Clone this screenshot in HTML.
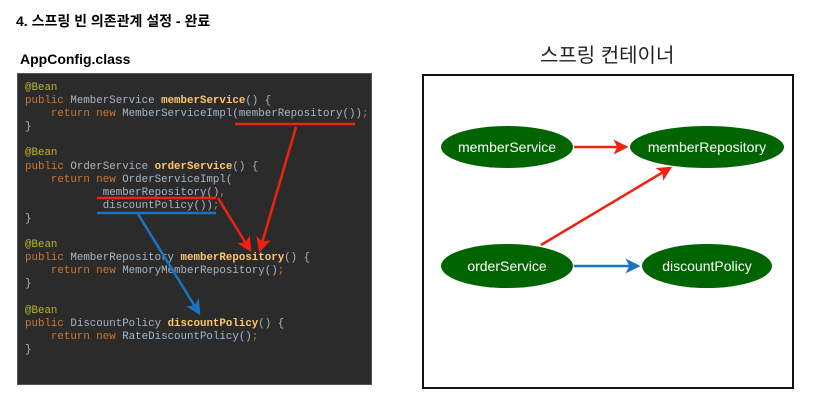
<!DOCTYPE html>
<html><head><meta charset="utf-8"><style>
body{margin:0;width:820px;height:404px;background:#fff;position:relative;overflow:hidden;font-family:"Liberation Sans","Noto Sans CJK KR",sans-serif}
.h{position:absolute;font-weight:bold;color:#000}
pre{position:absolute;left:17px;top:73px;width:355px;height:312px;margin:0;background:#2b2b2b;border:1.5px solid #555;box-sizing:border-box;padding:8px 0 0 7px;font-family:"Liberation Mono",monospace;font-size:10.8px;line-height:13.1px;color:#a9b7c6}
.a{color:#bbb529}.k{color:#cc7832}.f{color:#ffc66d;font-weight:bold}
</style></head><body>
<div class="h" style="left:16px;top:11px;font-size:14px">4. 스프링 빈 의존관계 설정 - 완료</div>
<div class="h" style="left:20px;top:51px;font-size:14px">AppConfig.class</div>
<div style="position:absolute;left:540px;top:39px;font-size:20px;color:#222">스프링 컨테이너</div>
<pre><span class="a">@Bean</span>
<span class="k">public</span> MemberService <span class="f">memberService</span>() {
    <span class="k">return new</span> MemberServiceImpl(memberRepository())<span class="k">;</span>
}

<span class="a">@Bean</span>
<span class="k">public</span> OrderService <span class="f">orderService</span>() {
    <span class="k">return new</span> OrderServiceImpl(
            memberRepository()<span class="k">,</span>
            discountPolicy())<span class="k">;</span>
}

<span class="a">@Bean</span>
<span class="k">public</span> MemberRepository <span class="f">memberRepository</span>() {
    <span class="k">return new</span> MemoryMemberRepository()<span class="k">;</span>
}

<span class="a">@Bean</span>
<span class="k">public</span> DiscountPolicy <span class="f">discountPolicy</span>() {
    <span class="k">return new</span> RateDiscountPolicy()<span class="k">;</span>
}</pre>
<svg width="820" height="404" style="position:absolute;left:0;top:0">
<defs>
<marker id="r" markerWidth="6" markerHeight="6" refX="5" refY="3" orient="auto" markerUnits="strokeWidth"><path d="M0,0 L6,3 L0,6 L1.5,3z" fill="#ee2211"/></marker>
<marker id="b" markerWidth="6" markerHeight="6" refX="5" refY="3" orient="auto" markerUnits="strokeWidth"><path d="M0,0 L6,3 L0,6 L1.5,3z" fill="#1a74c4"/></marker>
</defs>
<g stroke-width="2.5" fill="none">
<line x1="235" y1="124" x2="355" y2="124" stroke="#ee2211"/>
<line x1="97" y1="198" x2="216" y2="198" stroke="#ee2211"/>
<line x1="97" y1="213" x2="216" y2="213" stroke="#1a74c4"/>
<line x1="296" y1="127" x2="260" y2="250" stroke="#ee2211" marker-end="url(#r)"/>
<line x1="218" y1="198" x2="250" y2="250" stroke="#ee2211" marker-end="url(#r)"/>
<line x1="138" y1="214" x2="199" y2="313" stroke="#1a74c4" marker-end="url(#b)"/>
</g>
<rect x="423" y="75" width="370" height="313" fill="none" stroke="#111" stroke-width="2"/>
<g fill="#006400">
<ellipse cx="507" cy="147" rx="66" ry="21"/>
<ellipse cx="707" cy="147" rx="77" ry="21"/>
<ellipse cx="507" cy="266" rx="66" ry="22"/>
<ellipse cx="707" cy="266" rx="65" ry="22"/>
</g>
<g stroke-width="2.5">
<line x1="574" y1="147" x2="626" y2="147" stroke="#ee2211" marker-end="url(#r)"/>
<line x1="541" y1="245" x2="670" y2="168" stroke="#ee2211" marker-end="url(#r)"/>
<line x1="574" y1="266" x2="638" y2="266" stroke="#1a74c4" marker-end="url(#b)"/>
</g>
<g fill="#fff" font-size="14" text-anchor="middle" font-family="Liberation Sans,sans-serif">
<text x="507" y="152">memberService</text>
<text x="707" y="152">memberRepository</text>
<text x="507" y="271">orderService</text>
<text x="707" y="271">discountPolicy</text>
</g>
</svg>
</body></html>
